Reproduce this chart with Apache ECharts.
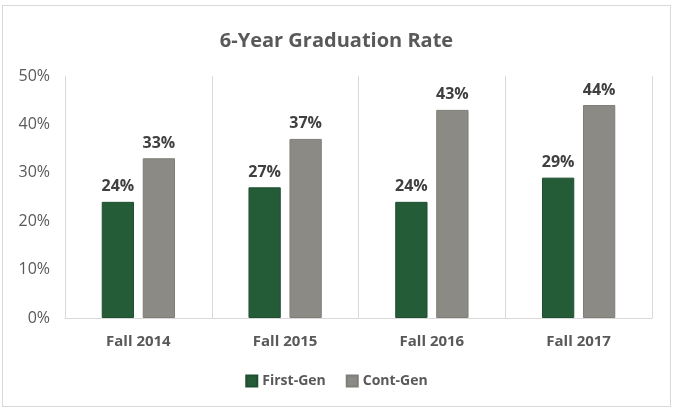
<!DOCTYPE html>
<html lang="en">
<head>
    <meta charset="UTF-8">
    <title>6-Year Graduation Rate</title>
    <style>
        html, body { margin: 0; padding: 0; background: #fff; }
        #chart {
            position: absolute; left: 2px; top: 5px;
            width: 667px; height: 400px;
            border: 1px solid #d9d9d9;
        }
    </style>
</head>
<body>
<div id="chart"></div>
<script src="https://cdn.jsdelivr.net/npm/echarts@6/dist/echarts.min.js"></script>
<script>
    // categories and series
    var years = ['Fall 2014', 'Fall 2015', 'Fall 2016', 'Fall 2017'];
    var firstGen = [24, 27, 24, 29];
    var contGen = [33, 37, 43, 44];

    var font = '"Open Sans", "DejaVu Sans", sans-serif';
    var chart = echarts.init(document.getElementById('chart'));

    var labelStyle = {
        show: true,
        position: 'top',
        distance: 7,
        formatter: '{c}%',
        color: '#404040',
        fontFamily: font,
        fontWeight: 'bold',
        fontSize: 16
    };

    chart.setOption({
        animation: false,
        title: {
            text: '6-Year Graduation Rate',
            left: 'center',
            top: 20,
            textStyle: { color: '#595959', fontFamily: font, fontWeight: 'bold', fontSize: 20 }
        },
        legend: {
            data: ['First-Gen', 'Cont-Gen'],
            bottom: 13,
            left: 'center',
            itemWidth: 11,
            itemHeight: 11,
            itemGap: 20,
            icon: 'rect',
            textStyle: { color: '#595959', fontFamily: font, fontWeight: 'bold', fontSize: 14 }
        },
        grid: { left: 62, right: 18, top: 70, bottom: 88 },
        xAxis: {
            type: 'category',
            data: years,
            axisLine: { lineStyle: { color: '#d9d9d9' } },
            axisTick: { show: false },
            splitLine: { show: true, lineStyle: { color: '#d9d9d9' } },
            axisLabel: { color: '#595959', fontFamily: font, fontWeight: 'bold', fontSize: 15, margin: 16 }
        },
        yAxis: {
            type: 'value',
            min: 0,
            max: 50,
            interval: 10,
            axisLine: { show: false },
            axisTick: { show: false },
            splitLine: { show: false },
            axisLabel: { formatter: '{value}%', color: '#595959', fontFamily: font, fontSize: 16, margin: 15 }
        },
        series: [
            {
                name: 'First-Gen',
                type: 'bar',
                data: firstGen,
                barWidth: '22%',
                barGap: '27%',
                itemStyle: { color: '#245c37', borderColor: '#1f4f30', borderWidth: 1 },
                label: labelStyle
            },
            {
                name: 'Cont-Gen',
                type: 'bar',
                data: contGen,
                barWidth: '22%',
                itemStyle: { color: '#8c8a85', borderColor: '#7f7d78', borderWidth: 1 },
                label: labelStyle
            }
        ]
    });
</script>
</body>
</html>
